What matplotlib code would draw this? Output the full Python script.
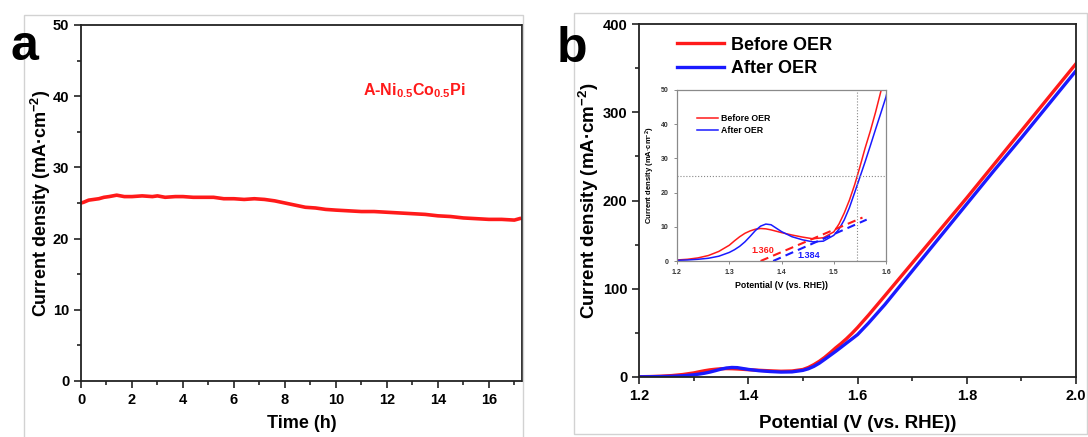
import matplotlib
matplotlib.use('Agg')
import matplotlib.pyplot as plt
from matplotlib.patches import Rectangle
from matplotlib.ticker import MultipleLocator, FormatStrFormatter

plt.rcParams['font.family'] = ['Liberation Sans', 'DejaVu Sans']
plt.rcParams['font.weight'] = 'bold'
plt.rcParams['mathtext.fontset'] = 'custom'
plt.rcParams['mathtext.rm'] = 'Liberation Sans:bold'
plt.rcParams['mathtext.bf'] = 'Liberation Sans:bold'
plt.rcParams['mathtext.default'] = 'bf'

# chronoamperometry at constant potential
time_h = [0, 0.1, 0.3, 0.5, 0.7, 0.9, 1.1, 1.4, 1.7, 2.0, 2.4, 2.8, 3.0, 3.3, 3.7, 4.0,
          4.4, 4.8, 5.2, 5.6, 6.0, 6.4, 6.8, 7.2, 7.6, 8.0, 8.4, 8.8, 9.2, 9.6, 10.0,
          10.5, 11.0, 11.5, 12.0, 12.5, 13.0, 13.5, 14.0, 14.5, 15.0, 15.5, 16.0, 16.5,
          17.0, 17.2]
current = [25.0, 25.1, 25.4, 25.5, 25.6, 25.8, 25.9, 26.1, 25.9, 25.9, 26.0, 25.9, 26.0,
           25.8, 25.9, 25.9, 25.8, 25.8, 25.8, 25.6, 25.6, 25.5, 25.6, 25.5, 25.3, 25.0,
           24.7, 24.4, 24.3, 24.1, 24.0, 23.9, 23.8, 23.8, 23.7, 23.6, 23.5, 23.4, 23.2,
           23.1, 22.9, 22.8, 22.7, 22.7, 22.6, 22.8]

# LSV before / after the stability test
potential = [1.20, 1.22, 1.24, 1.26, 1.28, 1.30, 1.31, 1.32, 1.33, 1.34, 1.35, 1.36, 1.37,
             1.38, 1.39, 1.40, 1.42, 1.44, 1.46, 1.48, 1.50, 1.51, 1.52, 1.53, 1.54, 1.55,
             1.56, 1.57, 1.58, 1.59, 1.60, 1.62, 1.65, 1.70, 1.75, 1.80, 1.85, 1.90, 1.95,
             2.00]
j_before = [0.3, 0.5, 0.9, 1.6, 2.8, 4.6, 5.9, 7.1, 8.1, 8.8, 9.3, 9.5, 9.4, 9.1, 8.7,
            8.3, 7.6, 7.0, 6.5, 6.8, 8.5, 10.8, 14.0, 17.8, 22.3, 27.5, 33.0, 38.0, 43.5,
            49.5, 56.0, 70, 92, 129, 166, 203, 241, 279, 317, 355]
j_after = [0.2, 0.3, 0.5, 0.8, 1.4, 2.5, 3.3, 4.3, 5.6, 7.2, 8.9, 10.2, 10.8, 10.6, 9.6,
           8.6, 7.1, 6.2, 5.6, 5.8, 7.5, 9.3, 12.0, 15.6, 20.0, 24.5, 29.0, 33.7, 38.5,
           43.2, 48.0, 61, 82, 120, 158, 196, 234, 271, 309, 347]
labels = ['Before OER', 'After OER']
colors = ['#ff1a1a', '#1a1aff']

# onset potentials from tangent extrapolation
onsets = [1.360, 1.384]
tangent_end_x = [1.555, 1.563]
tangent_end_y = [12.7, 12.1]
ref_potential = 1.545
ref_current = 25

W, H = 1088, 437
fig = plt.figure(figsize=(W / 100, H / 100), dpi=100)


def fx(px):
    return px / W


def fy(py):
    return 1 - py / H


def style_axes(ax, size):
    for s in ax.spines.values():
        s.set_color('#222222')
        s.set_linewidth(1.3)
    ax.tick_params(which='both', direction='out', top=False, right=False,
                   colors='#222222', labelsize=size, width=1.2)
    ax.tick_params(which='major', length=5)
    ax.tick_params(which='minor', length=3)
    for t in ax.get_xticklabels() + ax.get_yticklabels():
        t.set_fontweight('bold')
        t.set_color('black')


# panel frames
fig.add_artist(Rectangle((fx(24), -0.05), fx(523 - 24), fy(15) + 0.05, transform=fig.transFigure,
                         fill=False, ec='#d2d2d2', lw=1))
fig.add_artist(Rectangle((fx(574), fy(434)), fx(1087 - 574), fy(13) - fy(434),
                         transform=fig.transFigure, fill=False, ec='#d2d2d2', lw=1))

# (a) stability
ax1 = fig.add_axes([fx(81), fy(381), fx(522 - 81), fy(25) - fy(381)])
ax1.plot(time_h, current, color='#ff1a1a', lw=2.6)
ax1.set_xlim(0, 17.3)
ax1.set_ylim(0, 50)
ax1.xaxis.set_major_locator(MultipleLocator(2))
ax1.xaxis.set_minor_locator(MultipleLocator(1))
ax1.yaxis.set_major_locator(MultipleLocator(10))
ax1.yaxis.set_minor_locator(MultipleLocator(5))
style_axes(ax1, 10.5)
ax1.set_xlabel('Time (h)', fontsize=13, fontweight='bold', labelpad=6)
ax1.set_ylabel('Current density (mA·cm$^{-2}$)', fontsize=13, fontweight='bold', labelpad=0)
ax1.text(0.64, 0.815, 'A-Ni$_{0.5}$Co$_{0.5}$Pi', transform=ax1.transAxes, color='#ff1a1a',
         fontsize=11.5, fontweight='bold', va='center')

# (b) polarisation curves
ax2 = fig.add_axes([fx(639), fy(377), fx(1076 - 639), fy(24) - fy(377)])
for j, lab, c in zip([j_before, j_after], labels, colors):
    ax2.plot(potential, j, color=c, lw=2.4, label=lab)
ax2.set_xlim(1.2, 2.0)
ax2.set_ylim(0, 400)
ax2.xaxis.set_major_locator(MultipleLocator(0.2))
ax2.xaxis.set_minor_locator(MultipleLocator(0.1))
ax2.xaxis.set_major_formatter(FormatStrFormatter('%.1f'))
ax2.yaxis.set_major_locator(MultipleLocator(100))
ax2.yaxis.set_minor_locator(MultipleLocator(50))
style_axes(ax2, 10.5)
ax2.set_xlabel('Potential (V (vs. RHE))', fontsize=13.5, fontweight='bold', labelpad=9)
ax2.set_ylabel('Current density (mA·cm$^{-2}$)', fontsize=13.5, fontweight='bold', labelpad=1)
ax2.legend(loc='upper left', bbox_to_anchor=(0.07, 0.985), frameon=False,
           prop={'size': 13, 'weight': 'bold'}, handlelength=2.6, handletextpad=0.4,
           labelspacing=0.35, borderaxespad=0)

# inset zoom on the low-current region
ins = fig.add_axes([fx(677), fy(261), fx(886 - 677), fy(90) - fy(261)])
for j, lab, c in zip([j_before, j_after], labels, colors):
    ins.plot(potential, j, color=c, lw=1.1, label=lab)
for x0, x1, y1, c in zip(onsets, tangent_end_x, tangent_end_y, colors):
    ins.plot([x0, x1], [0, y1], color=c, lw=1.5, ls=(0, (4, 2.5)))
ins.axvline(ref_potential, color='#888888', lw=0.8, ls=':')
ins.axhline(ref_current, color='#888888', lw=0.8, ls=':')
ins.text(1.364, 3.0, f'{onsets[0]:.3f}', color=colors[0], fontsize=6.5, fontweight='bold',
         ha='center', va='center')
ins.text(1.452, 1.5, f'{onsets[1]:.3f}', color=colors[1], fontsize=6.5, fontweight='bold',
         ha='center', va='center')
ins.set_xlim(1.2, 1.6)
ins.set_ylim(0, 50)
ins.xaxis.set_major_locator(MultipleLocator(0.1))
ins.yaxis.set_major_locator(MultipleLocator(10))
for s in ins.spines.values():
    s.set_color('#8a8a8a')
    s.set_linewidth(0.9)
ins.tick_params(direction='out', length=2.5, width=0.7, colors='#8a8a8a', labelsize=5,
                top=False, right=False)
for t in ins.get_xticklabels() + ins.get_yticklabels():
    t.set_color('#333333')
    t.set_fontweight('bold')
ins.set_xlabel('Potential (V (vs. RHE))', fontsize=6.3, fontweight='bold', labelpad=3)
ins.set_ylabel('Current density (mA·cm$^{-2}$)', fontsize=5.5, fontweight='bold', labelpad=3)
ins.legend(loc='upper left', bbox_to_anchor=(0.08, 0.88), frameon=False,
           prop={'size': 6.3, 'weight': 'bold'}, handlelength=2.4, handletextpad=0.3,
           labelspacing=0.3, borderaxespad=0)

fig.text(fx(10), fy(60), 'a', fontsize=36, fontweight='bold', va='baseline')
fig.text(fx(557), fy(62), 'b', fontsize=36, fontweight='bold', va='baseline')

fig.savefig('out.png', dpi=100)
